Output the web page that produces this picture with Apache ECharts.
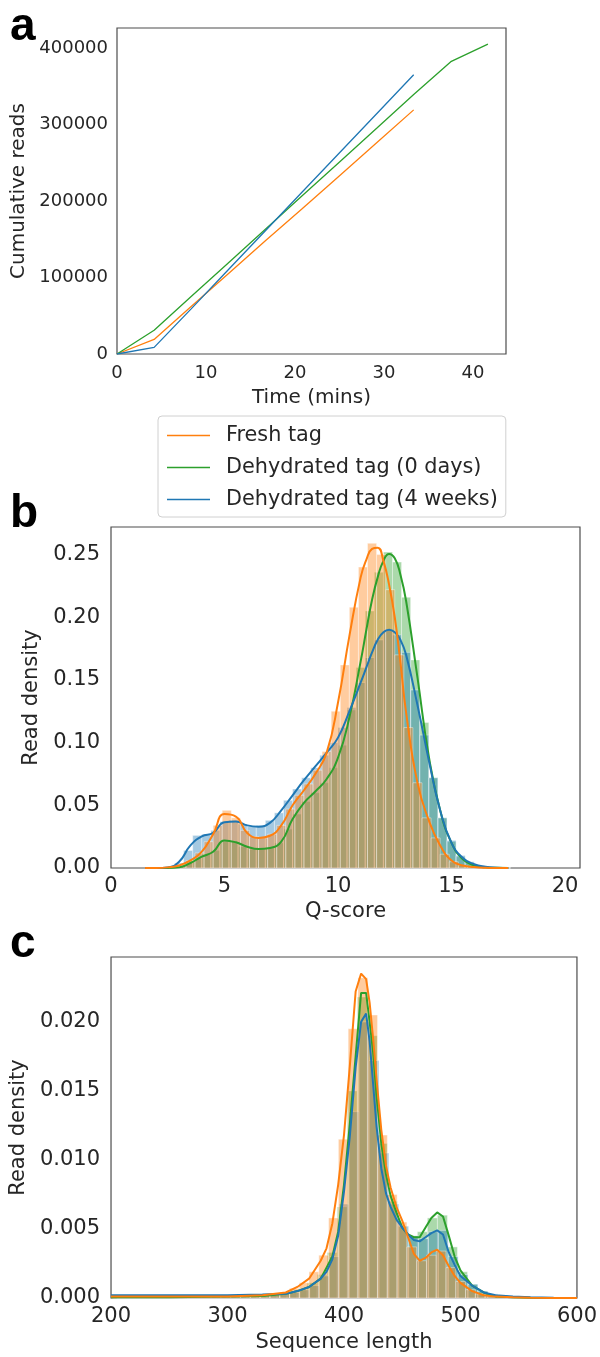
<!DOCTYPE html>
<html>
<head>
<meta charset="utf-8">
<title>tag reads</title>
<script src="https://cdn.jsdelivr.net/npm/echarts@6/dist/echarts.min.js"></script>
<style>
  html, body { margin: 0; padding: 0; background: #fff; }
  #main { width: 600px; height: 1357px; }
</style>
</head>
<body>
<div id="main"></div>
<script>
// a 累计reads ======================================
var timeMins = [0, 4.17, 8.33, 12.5, 16.67, 20.83, 25, 29.17, 33.33, 37.5, 41.67];
var freshReads = [0, 19000, 62000, 105000, 148000, 190000, 233000, 276000, 319000];
var dry0Reads = [0, 31000, 75000, 119000, 163000, 207000, 251000, 295000, 339000, 382000, 405000];
var dry4Reads = [0, 8700, 59000, 110000, 161000, 212000, 263000, 314000, 365000];

// b Q-score ======================================
var qKdeX = [1.5, 2, 2.5, 3, 3.5, 4, 4.5, 5, 5.5, 6, 6.5, 7, 7.5, 8, 8.5, 9, 9.5, 10, 10.5, 11,
  11.25, 11.5, 11.75, 12, 12.25, 12.5, 12.75, 13, 13.5, 14, 14.5, 15, 15.5, 16, 16.5, 17, 17.5];
var qKdeFresh = [0, 0, 0.0005, 0.002, 0.006, 0.013, 0.027, 0.043, 0.041, 0.028, 0.024, 0.0257, 0.034, 0.050, 0.062, 0.075, 0.092, 0.132, 0.185, 0.232,
  0.246, 0.2545, 0.2555, 0.245, 0.226, 0.200, 0.164, 0.124, 0.068, 0.038, 0.018, 0.006, 0.002, 0.0008, 0.0002, 0, 0];
var qKdeDry0 = [0, 0, 0, 0.0005, 0.004, 0.009, 0.013, 0.022, 0.0205, 0.017, 0.0152, 0.016, 0.021, 0.039, 0.052, 0.061, 0.071, 0.088, 0.120, 0.165,
  0.190, 0.214, 0.232, 0.245, 0.2505, 0.247, 0.234, 0.213, 0.152, 0.089, 0.046, 0.020, 0.007, 0.002, 0.0006, 0.0001, 0];
var qKdeDry4 = [0, 0, 0.0005, 0.005, 0.018, 0.0252, 0.028, 0.0365, 0.037, 0.034, 0.033, 0.036, 0.046, 0.058, 0.070, 0.081, 0.092, 0.104, 0.125, 0.148,
  0.160, 0.172, 0.182, 0.188, 0.190, 0.188, 0.182, 0.170, 0.130, 0.086, 0.046, 0.020, 0.008, 0.003, 0.001, 0.0003, 0];

var qBinWidth = 0.4;
var qFreshStart = 1.7;
var qFreshBins = [0.0002, 0.0005, 0.001, 0.003, 0.006, 0.012, 0.021, 0.034, 0.046, 0.040, 0.030, 0.025, 0.024, 0.027, 0.034, 0.047, 0.058, 0.067, 0.078,
  0.093, 0.125, 0.162, 0.208, 0.240, 0.259, 0.250, 0.222, 0.170, 0.112, 0.068, 0.040, 0.024, 0.011, 0.005, 0.002, 0.0008, 0.0003];
var qDry0Start = 2.0;
var qDry0Bins = [0, 0.0003, 0.001, 0.004, 0.008, 0.011, 0.014, 0.021, 0.021, 0.017, 0.015, 0.015, 0.016, 0.020, 0.031, 0.043, 0.053, 0.060, 0.068,
  0.080, 0.098, 0.126, 0.160, 0.205, 0.236, 0.252, 0.244, 0.216, 0.166, 0.116, 0.072, 0.040, 0.021, 0.009, 0.004, 0.0015, 0.0006, 0.0002, 0.0001];
var qDry4Start = 1.6;
var qDry4Bins = [0.0001, 0.0003, 0.001, 0.004, 0.014, 0.026, 0.027, 0.030, 0.037, 0.038, 0.035, 0.033, 0.034, 0.038, 0.044, 0.054, 0.063, 0.072, 0.080,
  0.090, 0.100, 0.112, 0.128, 0.148, 0.168, 0.182, 0.190, 0.186, 0.172, 0.142, 0.106, 0.072, 0.040, 0.022, 0.010, 0.005, 0.002, 0.0008, 0.0003, 0.0001];

// c 序列长度 ======================================
var lenKdeX = [200, 250, 300, 330, 350, 360, 370, 380, 385, 390, 395, 400, 405, 410, 414.7, 419, 422, 425, 428, 432, 436, 440,
  445, 450, 455, 460, 465, 470, 475, 480, 485, 490, 495, 500, 510, 520, 530, 545, 560, 580, 600];
var lenKdeFresh = [0.0001, 0.0001, 0.0001, 0.0002, 0.0004, 0.0008, 0.0014, 0.0027, 0.0036, 0.0054, 0.0082, 0.0118, 0.0168, 0.0222, 0.0235, 0.0231, 0.0214, 0.0188, 0.0158, 0.0122, 0.0096, 0.0080,
  0.0066, 0.0056, 0.0044, 0.0032, 0.0027, 0.0029, 0.0033, 0.0035, 0.0031, 0.0023, 0.0016, 0.0011, 0.0005, 0.0002, 0.0001, 0.00005, 0.00002, 0, 0];
var lenKdeDry0 = [0.00005, 0.00005, 0.0001, 0.00015, 0.0003, 0.0005, 0.0008, 0.0014, 0.0022, 0.0030, 0.0048, 0.0082, 0.0126, 0.0175, 0.0221, 0.0221, 0.0200, 0.0178, 0.0146, 0.0112, 0.0090, 0.0074,
  0.0062, 0.0051, 0.0046, 0.0044, 0.0044, 0.0051, 0.0058, 0.0062, 0.0059, 0.0045, 0.0030, 0.0020, 0.0009, 0.0004, 0.0001, 0.00005, 0.00002, 0, 0];
var lenKdeDry4 = [0.0002, 0.0002, 0.0002, 0.00025, 0.0003, 0.0005, 0.0008, 0.0014, 0.0019, 0.0028, 0.0045, 0.0077, 0.0117, 0.0167, 0.0200, 0.0206, 0.0186, 0.0155, 0.0124, 0.0094, 0.0076, 0.0066,
  0.0057, 0.0051, 0.0046, 0.0042, 0.0041, 0.0044, 0.0047, 0.0049, 0.0046, 0.0033, 0.0024, 0.0016, 0.0009, 0.0004, 0.0002, 0.0001, 0.00005, 0.00002, 0];

var lenFreshStart = 202, lenFreshWidth = 8.4;
var lenFreshBins = [0.0001, 0.0001, 0.0001, 0.0001, 0.0001, 0.0001, 0.0001, 0.0001, 0.0001, 0.0001, 0.0001, 0.0001, 0.00015, 0.00015, 0.0002, 0.0002, 0.0003,
  0.0004, 0.0007, 0.0011, 0.0019, 0.0031, 0.0058, 0.0115, 0.0195, 0.0232, 0.0205, 0.0118, 0.0075, 0.0055, 0.0037, 0.0027, 0.0031, 0.0034, 0.0022, 0.0012,
  0.0006, 0.0003, 0.00015, 0.0001, 0.00005, 0.00003, 0.00002];
var lenDry0Start = 205, lenDry0Width = 8.6;
var lenDry0Bins = [0.00005, 0.00005, 0.00005, 0.00005, 0.00005, 0.00005, 0.00005, 0.00005, 0.00008, 0.00008, 0.0001, 0.0001, 0.0001, 0.0001, 0.00015, 0.0002,
  0.0003, 0.0004, 0.0006, 0.0011, 0.0017, 0.0033, 0.0066, 0.0150, 0.0218, 0.0190, 0.0112, 0.0070, 0.0052, 0.0045, 0.0048, 0.0058, 0.0060, 0.0037, 0.0019,
  0.0010, 0.0005, 0.0002, 0.0001, 0.00005, 0.00003, 0.00002, 0.00001];
var lenDry4Start = 200.5, lenDry4Width = 8.5;
var lenDry4Bins = [0.0002, 0.0002, 0.0002, 0.0002, 0.0002, 0.0002, 0.0002, 0.0002, 0.0002, 0.0002, 0.0002, 0.0002, 0.0002, 0.0002, 0.00025, 0.00025, 0.0003,
  0.00035, 0.0004, 0.0006, 0.0009, 0.0016, 0.0030, 0.0068, 0.0135, 0.0200, 0.0172, 0.0105, 0.0068, 0.0052, 0.0045, 0.0043, 0.0048, 0.0049, 0.0030, 0.0017,
  0.0010, 0.0005, 0.0003, 0.0002, 0.0001, 0.00006, 0.00004, 0.00002, 0.00001];

var names = ['Fresh tag', 'Dehydrated tag (0 days)', 'Dehydrated tag (4 weeks)'];
var cOrange = '#ff7f0e', cGreen = '#2ca02c', cBlue = '#1f77b4';
var textColor = '#262626';
var fontName = '"DejaVu Sans", sans-serif';

//组合成点
var zip = function(xs, ys){
  var out = [];
  for (var i = 0; i < ys.length; i++) {
    out.push([xs[i], ys[i]]);
  }
  return out;
};
//直方图的柱子 [左, 右, 高]
var makeBins = function(start, width, heights){
  var out = [];
  for (var i = 0; i < heights.length; i++) {
    out.push([start + i * width, start + (i + 1) * width, heights[i]]);
  }
  return out;
};
var isStep = function(v, step){
  var r = v / step;
  return Math.abs(r - Math.round(r)) < 1e-6;
};

function histSeries(name, color, idx, data) {
  return {
    name: name,
    type: 'custom',
    xAxisIndex: idx,
    yAxisIndex: idx,
    silent: true,
    encode: { x: [0, 1], y: 2 },
    data: data,
    renderItem: function(params, api) {
      var a = api.coord([api.value(0), api.value(2)]);
      var b = api.coord([api.value(1), 0]);
      return {
        type: 'rect',
        shape: { x: a[0], y: a[1], width: b[0] - a[0], height: b[1] - a[1] },
        style: { fill: color, stroke: '#fff', lineWidth: 1, opacity: 0.4 }
      };
    }
  };
}
function lineSeries(name, color, idx, data, width, smooth) {
  return {
    name: name,
    type: 'line',
    xAxisIndex: idx,
    yAxisIndex: idx,
    showSymbol: false,
    smooth: smooth,
    silent: true,
    color: color,
    lineStyle: { color: color, width: width },
    data: data
  };
}
function valueAxis(idx, min, max, step, fmt, name, gap, opts) {
  return {
    gridIndex: idx,
    type: 'value',
    min: min,
    max: max,
    interval: step,
    axisLine: { show: false },
    axisTick: { show: false },
    splitLine: { show: false },
    axisLabel: {
      color: textColor,
      fontFamily: fontName,
      fontSize: opts.tick,
      margin: opts.margin,
      formatter: function(v){ return isStep(v, step) ? fmt(v) : ''; }
    },
    name: name,
    nameLocation: 'middle',
    nameGap: gap,
    nameTextStyle: { color: textColor, fontFamily: fontName, fontSize: opts.label }
  };
}

var gridStyle = { show: true, borderColor: '#4d4d4d', borderWidth: 1.2, backgroundColor: '#fff' };
var plain = function(v){ return String(Math.round(v)); };

var myChart = echarts.init(document.getElementById('main'), null, { renderer: 'canvas' });

var option = {
  animation: false,
  backgroundColor: '#fff',
  grid: [
    echarts.util.extend({ left: 117, top: 28, width: 389, height: 326 }, gridStyle),
    echarts.util.extend({ left: 111, top: 527, width: 469, height: 341 }, gridStyle),
    echarts.util.extend({ left: 111, top: 957, width: 467, height: 341 }, gridStyle)
  ],
  xAxis: [
    valueAxis(0, 0, 43.7, 10, plain, 'Time (mins)', 34, { tick: 18, label: 20, margin: 10 }),
    valueAxis(1, 0, 20.66, 5, plain, 'Q-score', 33, { tick: 21, label: 21, margin: 8 }),
    valueAxis(2, 200, 600, 100, plain, 'Sequence length', 34, { tick: 21, label: 21, margin: 8 })
  ],
  yAxis: [
    valueAxis(0, 0, 426000, 100000, plain, 'Cumulative reads', 78, { tick: 18, label: 20, margin: 9 }),
    valueAxis(1, 0, 0.272, 0.05, function(v){ return v.toFixed(2); }, 'Read density', 64, { tick: 21, label: 21, margin: 11 }),
    valueAxis(2, 0, 0.0247, 0.005, function(v){ return v.toFixed(3); }, 'Read density', 76, { tick: 21, label: 21, margin: 11 })
  ],
  legend: {
    data: names,
    orient: 'vertical',
    left: 158,
    top: 416,
    padding: [9, 8, 7, 9],
    itemGap: 11,
    itemWidth: 43,
    itemHeight: 1.5,
    icon: 'rect',
    selectedMode: false,
    backgroundColor: '#fff',
    borderColor: '#d0d0d0',
    borderWidth: 1,
    borderRadius: 4,
    textStyle: { color: textColor, fontFamily: fontName, fontSize: 20.8, lineHeight: 21, padding: [0, 0, 0, 11] }
  },
  graphic: [
    { type: 'text', left: 10, top: 4, style: { text: 'a', font: 'bold 46px "Liberation Sans", Arial, sans-serif', fill: '#000' } },
    { type: 'text', left: 10, top: 491, style: { text: 'b', font: 'bold 46px "Liberation Sans", Arial, sans-serif', fill: '#000' } },
    { type: 'text', left: 10, top: 921, style: { text: 'c', font: 'bold 46px "Liberation Sans", Arial, sans-serif', fill: '#000' } }
  ],
  series: [
    lineSeries(names[0], cOrange, 0, zip(timeMins, freshReads), 1.3, false),
    lineSeries(names[1], cGreen, 0, zip(timeMins, dry0Reads), 1.3, false),
    lineSeries(names[2], cBlue, 0, zip(timeMins, dry4Reads), 1.3, false),

    // 绿->蓝->橙 叠放
    histSeries('q0d', cGreen, 1, makeBins(qDry0Start, qBinWidth, qDry0Bins)),
    lineSeries('q0d kde', cGreen, 1, zip(qKdeX, qKdeDry0), 2, true),
    histSeries('q4w', cBlue, 1, makeBins(qDry4Start, qBinWidth, qDry4Bins)),
    lineSeries('q4w kde', cBlue, 1, zip(qKdeX, qKdeDry4), 2, true),
    histSeries('qfresh', cOrange, 1, makeBins(qFreshStart, qBinWidth, qFreshBins)),
    lineSeries('qfresh kde', cOrange, 1, zip(qKdeX, qKdeFresh), 2, true),

    histSeries('l0d', cGreen, 2, makeBins(lenDry0Start, lenDry0Width, lenDry0Bins)),
    lineSeries('l0d kde', cGreen, 2, zip(lenKdeX, lenKdeDry0), 2, false),
    histSeries('l4w', cBlue, 2, makeBins(lenDry4Start, lenDry4Width, lenDry4Bins)),
    lineSeries('l4w kde', cBlue, 2, zip(lenKdeX, lenKdeDry4), 2, false),
    histSeries('lfresh', cOrange, 2, makeBins(lenFreshStart, lenFreshWidth, lenFreshBins)),
    lineSeries('lfresh kde', cOrange, 2, zip(lenKdeX, lenKdeFresh), 2, false)
  ]
};

myChart.setOption(option);
</script>
</body>
</html>
